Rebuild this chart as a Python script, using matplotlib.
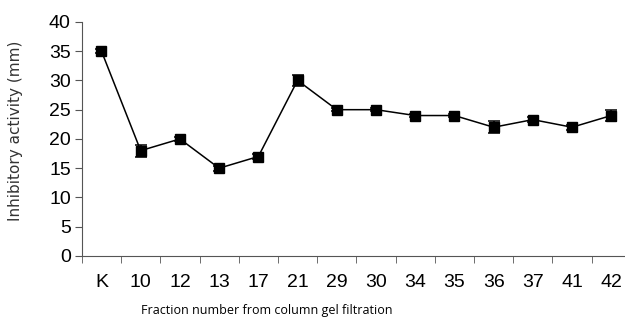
import matplotlib.pyplot as plt
import numpy as np

fractions = ['K', '10', '12', '13', '17', '21', '29', '30', '34', '35', '36', '37', '41', '42']
activity = [35, 18, 20, 15, 17, 30, 25, 25, 24, 24, 22, 23.3, 22, 24]
errors = [0.3, 1.0, 0.3, 0.4, 0.4, 1.0, 0.3, 0.3, 0.3, 0.3, 1.0, 0.4, 0.4, 1.0]

fig = plt.figure(figsize=(6.25, 3.22), dpi=100)
ax = fig.add_axes([0.131, 0.205, 0.869, 0.727])

x = np.arange(len(fractions))
ax.errorbar(x, activity, yerr=errors, color='black', marker='s', markersize=7,
            linewidth=1.1, capsize=4, elinewidth=1.1, capthick=1.1)

ax.set_xlim(-0.5, 13.35)
ax.set_ylim(0, 40)
ax.set_yticks(range(0, 41, 5))
ax.set_xticks(x)
ax.set_xticklabels(fractions)
ax.set_xticks(np.arange(-0.5, 13.5, 1), minor=True)
ax.tick_params(axis='x', which='major', length=0, pad=13, labelsize=14)
ax.tick_params(axis='x', which='minor', length=5, color='#555555')
ax.tick_params(axis='y', length=5, pad=3, labelsize=14, color='#555555')
for lab in ax.get_xticklabels() + ax.get_yticklabels():
    lab.set_family('Liberation Sans')

ax.spines['top'].set_visible(False)
ax.spines['right'].set_visible(False)
ax.spines['left'].set_color('#555555')
ax.spines['bottom'].set_color('#555555')

fig.text(0.025, 0.593, 'Inhibitory activity (mm)', rotation=90, ha='center', va='center',
         fontsize=11, family='DejaVu Sans', color='#333333')
fig.text(0.427, 0.037, 'Fraction number from column gel filtration', ha='center', va='center',
         fontsize=9, family='Open Sans')

fig.savefig('out.png', dpi=100)
